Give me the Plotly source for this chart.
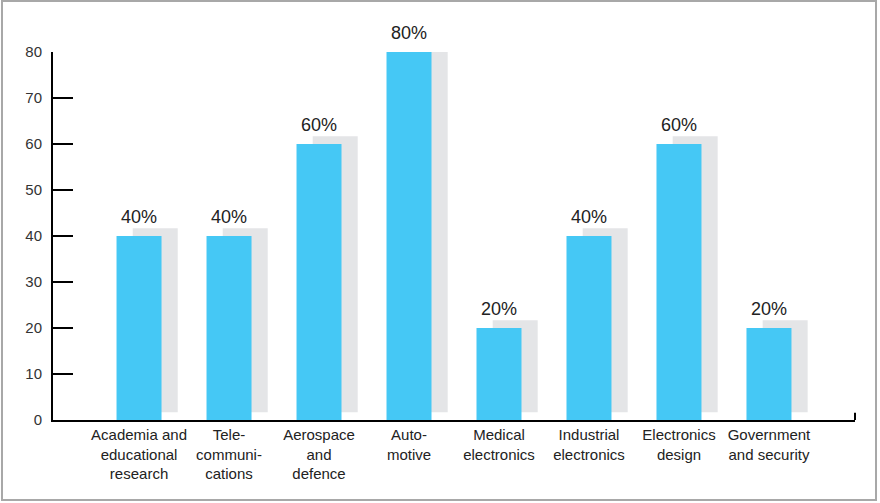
import plotly.graph_objects as go

# data
categories = ["Academia and<br>educational<br>research", "Tele-<br>communi-<br>cations",
              "Aerospace<br>and<br>defence", "Auto-<br>motive", "Medical<br>electronics",
              "Industrial<br>electronics", "Electronics<br>design", "Government<br>and security"]
values = [40, 40, 60, 80, 20, 40, 60, 20]
labels = ["40%", "40%", "60%", "80%", "20%", "40%", "60%", "20%"]
y_ticks = [0, 10, 20, 30, 40, 50, 60, 70, 80]

blue = "#45c8f5"
shadow = "#e4e5e7"
font = "Liberation Sans, Arial, sans-serif"
x = list(range(len(categories)))

fig = go.Figure()

# gray "shadow" copy of each bar, shifted right and up
fig.add_trace(go.Bar(x=x, y=values, base=1.7, width=0.5, offset=-0.07,
                     marker=dict(color=shadow, line=dict(width=0)),
                     hoverinfo="skip", showlegend=False))

fig.add_trace(go.Bar(x=x, y=values, width=0.5, offset=-0.25,
                     marker=dict(color=blue, line=dict(width=0)),
                     showlegend=False))

for i, v in enumerate(values):
    fig.add_annotation(x=i, y=v, text=labels[i], showarrow=False,
                       yanchor="bottom", yshift=7,
                       font=dict(family=font, size=18, color="#222"))

# outer frame
fig.add_shape(type="rect", xref="paper", yref="paper",
              x0=-0.0636, x1=1.0262, y0=-0.2174, y1=1.1386,
              line=dict(color="#a8a8a8", width=2))
# little up-tick at right end of x axis
fig.add_shape(type="line", xref="paper", yref="paper",
              x0=1, x1=1, y0=0, y1=0.02,
              line=dict(color="black", width=2))

fig.update_layout(
    width=880, height=503,
    margin=dict(l=53, r=25, t=52, b=83),
    plot_bgcolor="white", paper_bgcolor="white",
    barmode="overlay",
    font=dict(family=font, size=15, color="#222"),
    xaxis=dict(range=[-0.956, 7.956], tickmode="array", tickvals=x, ticktext=categories,
               showline=True, linecolor="black", linewidth=2, ticks="",
               showgrid=False, zeroline=False, tickfont=dict(size=15, color="#222")),
    yaxis=dict(range=[0, 80], tickmode="array", tickvals=y_ticks,
               showline=True, linecolor="black", linewidth=2,
               ticks="inside", ticklen=20, tickwidth=2, tickcolor="black",
               showgrid=False, zeroline=False, ticklabelstandoff=6,
               tickfont=dict(size=15, color="#333")),
)

fig.write_html("out.html", config={"displayModeBar": False},
               post_script="document.body.style.margin='0px';")
